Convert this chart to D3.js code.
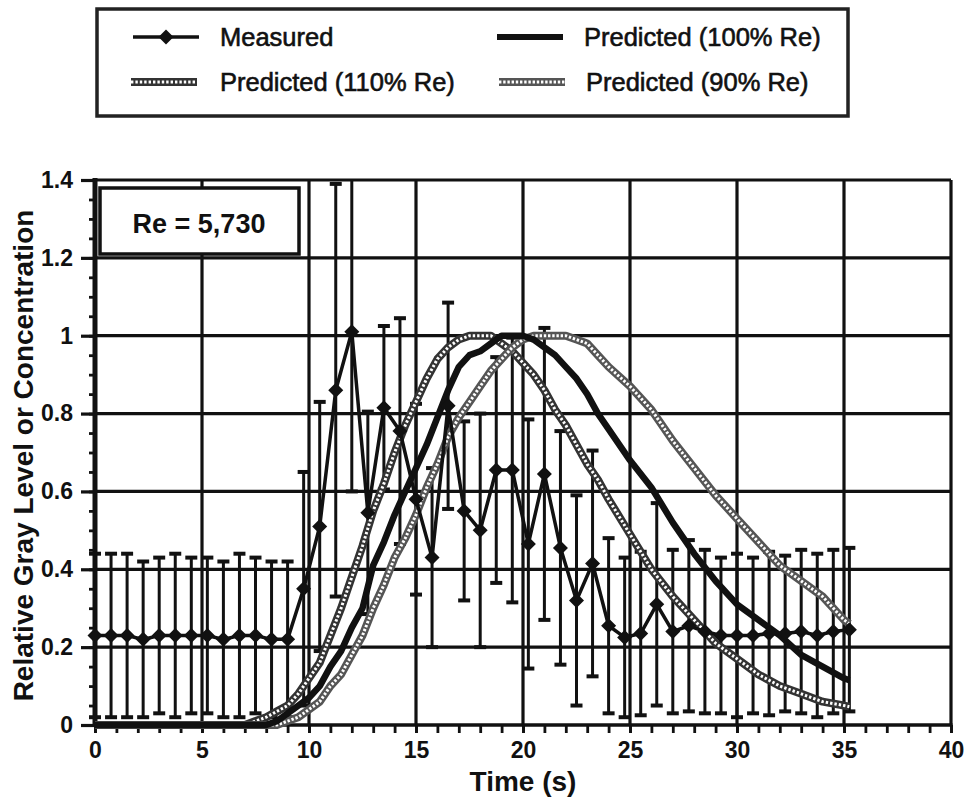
<!DOCTYPE html>
<html lang="en">
<head>
<meta charset="UTF-8">
<title>Re = 5,730</title>
<script src="https://cdn.jsdelivr.net/npm/d3@7"></script>
<style>
  body { margin: 0; background: #fff; }
  svg { display: block; font-family: "Liberation Sans", Arial, Helvetica, sans-serif; }
</style>
</head>
<body>
<svg width="965" height="800"></svg>
<script>
// measured gray level (mean and error bar half-length)
const times = [0, 0.75, 1.5, 2.25, 3, 3.75, 4.5, 5.25, 6, 6.75, 7.5, 8.25, 9, 9.75, 10.5, 11.25,
  12, 12.75, 13.5, 14.25, 15, 15.75, 16.5, 17.25, 18, 18.75, 19.5, 20.25, 21, 21.75, 22.5, 23.25,
  24, 24.75, 25.5, 26.25, 27, 27.75, 28.5, 29.25, 30, 30.75, 31.5, 32.25, 33, 33.75, 34.5, 35.25];
const measured = [0.23, 0.23, 0.23, 0.22, 0.23, 0.23, 0.23, 0.23, 0.22, 0.23, 0.23, 0.22, 0.22, 0.35, 0.51, 0.86,
  1.01, 0.545, 0.815, 0.755, 0.58, 0.43, 0.82, 0.55, 0.50, 0.655, 0.655, 0.465, 0.645, 0.455, 0.32, 0.415,
  0.255, 0.225, 0.235, 0.31, 0.24, 0.255, 0.24, 0.23, 0.23, 0.23, 0.235, 0.235, 0.24, 0.23, 0.24, 0.245];
const measuredErr = [0.21, 0.21, 0.21, 0.20, 0.20, 0.21, 0.20, 0.20, 0.20, 0.21, 0.20, 0.20, 0.20, 0.30, 0.32, 0.53,
  0.41, 0.26, 0.21, 0.29, 0.245, 0.23, 0.265, 0.23, 0.30, 0.29, 0.34, 0.32, 0.375, 0.30, 0.27, 0.29,
  0.225, 0.205, 0.21, 0.26, 0.21, 0.22, 0.21, 0.20, 0.21, 0.20, 0.21, 0.20, 0.21, 0.21, 0.21, 0.21];

// predicted concentration
const predTimes = [0, 7, 7.5, 8, 8.5, 9, 9.5, 10, 10.5, 11, 11.5, 12, 12.5, 13, 13.5, 14, 14.5, 15, 15.5, 16,
  16.5, 17, 17.5, 18, 18.5, 19, 19.5, 20, 20.5, 21, 21.5, 22, 22.5, 23, 23.5, 24,
  25, 26, 27, 28, 29, 30, 31, 32, 33, 34, 35, 35.25];
const pred100 = [0, 0, 0, 0, 0.01, 0.03, 0.05, 0.07, 0.10, 0.15, 0.19, 0.25, 0.30, 0.41, 0.47, 0.54, 0.60, 0.66, 0.72, 0.79,
  0.86, 0.92, 0.95, 0.96, 0.98, 1.0, 1.0, 1.0, 0.99, 0.97, 0.95, 0.92, 0.89, 0.85, 0.80, 0.76,
  0.68, 0.61, 0.52, 0.44, 0.37, 0.31, 0.27, 0.23, 0.18, 0.15, 0.12, 0.115];
const pred110 = [0, 0, 0.01, 0.02, 0.035, 0.05, 0.08, 0.12, 0.16, 0.23, 0.30, 0.38, 0.46, 0.55, 0.62, 0.70, 0.77, 0.83, 0.89, 0.94,
  0.97, 0.99, 1.0, 1.0, 1.0, 0.98, 0.96, 0.93, 0.90, 0.86, 0.81, 0.77, 0.72, 0.67, 0.63, 0.58,
  0.49, 0.40, 0.33, 0.27, 0.21, 0.17, 0.13, 0.10, 0.08, 0.06, 0.05, 0.047];
const pred90 = [0, 0, 0, 0, 0, 0.01, 0.02, 0.04, 0.06, 0.10, 0.13, 0.18, 0.23, 0.30, 0.36, 0.43, 0.48, 0.54, 0.61, 0.67,
  0.74, 0.79, 0.83, 0.87, 0.91, 0.94, 0.97, 0.99, 1.0, 1.0, 1.0, 1.0, 0.99, 0.98, 0.95, 0.92,
  0.87, 0.81, 0.73, 0.66, 0.59, 0.53, 0.47, 0.41, 0.37, 0.33, 0.27, 0.26];

const xTicks = [0, 5, 10, 15, 20, 25, 30, 35, 40];
const yTicks = [0, 0.2, 0.4, 0.6, 0.8, 1, 1.2, 1.4];
const yTickLabels = ['0', '0.2', '0.4', '0.6', '0.8', '1', '1.2', '1.4'];
const legendLabels = ['Measured', 'Predicted (100% Re)', 'Predicted (110% Re)', 'Predicted (90% Re)'];

const ink = '#111';
const svg = d3.select('svg');

const x = d3.scaleLinear().domain([0, 40]).range([95, 951]);
const y = d3.scaleLinear().domain([0, 1.4]).range([725, 180]);

// grid
svg.append('g')
  .selectAll('line')
  .data(xTicks.slice(1))
  .join('line')
  .attr('x1', d => x(d)).attr('x2', d => x(d))
  .attr('y1', y(0)).attr('y2', y(1.4))
  .attr('stroke', ink).attr('stroke-width', 3.2);

svg.append('g')
  .selectAll('line')
  .data(yTicks.slice(1))
  .join('line')
  .attr('x1', x(0)).attr('x2', x(40))
  .attr('y1', d => y(d)).attr('y2', d => y(d))
  .attr('stroke', ink).attr('stroke-width', 3.2);

// minor ticks
const minorX = d3.axisBottom(x).tickValues(d3.range(0, 41, 1)).tickSize(8).tickFormat('');
svg.append('g').attr('transform', `translate(0,${y(0)})`).call(minorX)
  .call(g => g.select('.domain').remove())
  .call(g => g.selectAll('line').attr('stroke', ink).attr('stroke-width', 2.8));

const minorY = d3.axisLeft(y).tickValues(d3.range(0, 1.41, 0.05)).tickSize(6).tickFormat('');
svg.append('g').attr('transform', `translate(${x(0)},0)`).call(minorY)
  .call(g => g.select('.domain').remove())
  .call(g => g.selectAll('line').attr('stroke', ink).attr('stroke-width', 2.8));

// major axes
const xAxis = d3.axisBottom(x).tickValues(xTicks).tickSize(8).tickPadding(9).tickFormat(d3.format('d'));
svg.append('g').attr('transform', `translate(0,${y(0)})`).call(xAxis)
  .call(g => g.select('.domain').remove())
  .call(g => g.selectAll('line').attr('stroke', ink).attr('stroke-width', 2.8))
  .call(g => g.selectAll('text').attr('fill', ink).attr('font-size', 23).attr('font-weight', 'bold')
    .attr('font-family', '"Liberation Sans", Arial, sans-serif'));

const yAxis = d3.axisLeft(y).tickValues(yTicks).tickSize(14).tickPadding(8)
  .tickFormat((d, i) => yTickLabels[i]);
svg.append('g').attr('transform', `translate(${x(0)},0)`).call(yAxis)
  .call(g => g.select('.domain').remove())
  .call(g => g.selectAll('line').attr('stroke', ink).attr('stroke-width', 3.2))
  .call(g => g.selectAll('text').attr('fill', ink).attr('font-size', 23).attr('font-weight', 'bold')
    .attr('font-family', '"Liberation Sans", Arial, sans-serif'));

// axis lines
svg.append('line').attr('x1', x(0)).attr('x2', x(0)).attr('y1', y(1.4) - 2).attr('y2', y(0) + 2)
  .attr('stroke', ink).attr('stroke-width', 5);
svg.append('line').attr('x1', x(0)).attr('x2', x(40) + 1.5).attr('y1', y(0)).attr('y2', y(0))
  .attr('stroke', ink).attr('stroke-width', 3.5);

// axis titles
svg.append('text')
  .attr('transform', `translate(33,${(y(0) + y(1.4)) / 2 + 3}) rotate(-90)`)
  .attr('text-anchor', 'middle').attr('font-size', 28).attr('font-weight', 'bold').attr('fill', ink)
  .text('Relative Gray Level or Concentration');
svg.append('text')
  .attr('x', 523).attr('y', 791)
  .attr('text-anchor', 'middle').attr('font-size', 28).attr('font-weight', 'bold').attr('fill', ink)
  .text('Time (s)');

// clip for error bars
svg.append('clipPath').attr('id', 'plot-clip')
  .append('rect').attr('x', x(0) - 10).attr('y', y(1.4)).attr('width', x(40) - x(0) + 20).attr('height', y(0) - y(1.4));

const pts = times.map((t, i) => ({ t, v: measured[i], e: measuredErr[i] }));

const bars = svg.append('g').attr('clip-path', 'url(#plot-clip)')
  .attr('stroke', ink).attr('stroke-width', 3);
bars.selectAll('line.stem').data(pts).join('line').attr('class', 'stem')
  .attr('x1', d => x(d.t)).attr('x2', d => x(d.t))
  .attr('y1', d => y(d.v - d.e)).attr('y2', d => y(d.v + d.e));
bars.selectAll('line.top').data(pts).join('line').attr('class', 'top')
  .attr('x1', d => x(d.t) - 6).attr('x2', d => x(d.t) + 6)
  .attr('y1', d => y(d.v + d.e)).attr('y2', d => y(d.v + d.e)).attr('stroke-width', 4);
bars.selectAll('line.bot').data(pts).join('line').attr('class', 'bot')
  .attr('x1', d => x(d.t) - 6).attr('x2', d => x(d.t) + 6)
  .attr('y1', d => y(d.v - d.e)).attr('y2', d => y(d.v - d.e)).attr('stroke-width', 4);

// predicted curves
const line = d3.line().x(d => x(d[0])).y(d => y(d[1]));

function hatched(g, path, dark, gap) {
  g.append('path').attr('d', path).attr('fill', 'none')
    .attr('stroke', dark).attr('stroke-width', 8).attr('stroke-linejoin', 'round');
  g.append('path').attr('d', path).attr('fill', 'none')
    .attr('stroke', '#fff').attr('stroke-width', 3).attr('stroke-dasharray', gap);
}

const curves = svg.append('g');
hatched(curves, line(predTimes.map((t, i) => [t, pred110[i]])), '#333', '2.4,2');
hatched(curves, line(predTimes.map((t, i) => [t, pred90[i]])), '#555', '2.4,1.8');
curves.append('path').attr('d', line(predTimes.map((t, i) => [t, pred100[i]])))
  .attr('fill', 'none').attr('stroke', ink).attr('stroke-width', 6.5).attr('stroke-linejoin', 'round');

// measured series
const diamond = 'M0,-7.5L7.5,0L0,7.5L-7.5,0Z';
svg.append('path').attr('d', line(pts.map(d => [d.t, d.v])))
  .attr('fill', 'none').attr('stroke', ink).attr('stroke-width', 3.5);
svg.append('g').selectAll('path').data(pts).join('path')
  .attr('transform', d => `translate(${x(d.t)},${y(d.v)})`)
  .attr('d', diamond).attr('fill', ink);

// Re box
svg.append('rect').attr('x', 100).attr('y', 188).attr('width', 199).attr('height', 66)
  .attr('fill', '#fff').attr('stroke', ink).attr('stroke-width', 3.5);
svg.append('text').attr('x', 199).attr('y', 233).attr('text-anchor', 'middle')
  .attr('font-size', 27).attr('font-weight', 'bold').attr('fill', ink).text('Re = 5,730');

// legend
const legend = svg.append('g');
legend.append('rect').attr('x', 97).attr('y', 9).attr('width', 751).attr('height', 107)
  .attr('fill', '#fff').attr('stroke', '#222').attr('stroke-width', 3.5);

const legendPos = [[133, 37], [497, 37], [133, 82], [499, 82]];
legendLabels.forEach((lab, i) => {
  const [lx, ly] = legendPos[i];
  legend.append('text').attr('x', lx + 87).attr('y', ly + 9)
    .attr('font-size', 25.5).attr('fill', ink)
    .attr('stroke', ink).attr('stroke-width', 0.6).text(lab);
});
const seg = (lx, ly) => `M${lx},${ly}L${lx + 66},${ly}`;
legend.append('path').attr('d', seg(133, 37)).attr('stroke', ink).attr('stroke-width', 3.5);
legend.append('path').attr('d', diamond).attr('transform', 'translate(166,37)').attr('fill', ink);
legend.append('path').attr('d', seg(497, 37)).attr('stroke', ink).attr('stroke-width', 6);
hatched(legend, seg(131, 82), '#333', '2.4,2');
hatched(legend, seg(499, 82), '#555', '2.4,1.8');
</script>
</body>
</html>
